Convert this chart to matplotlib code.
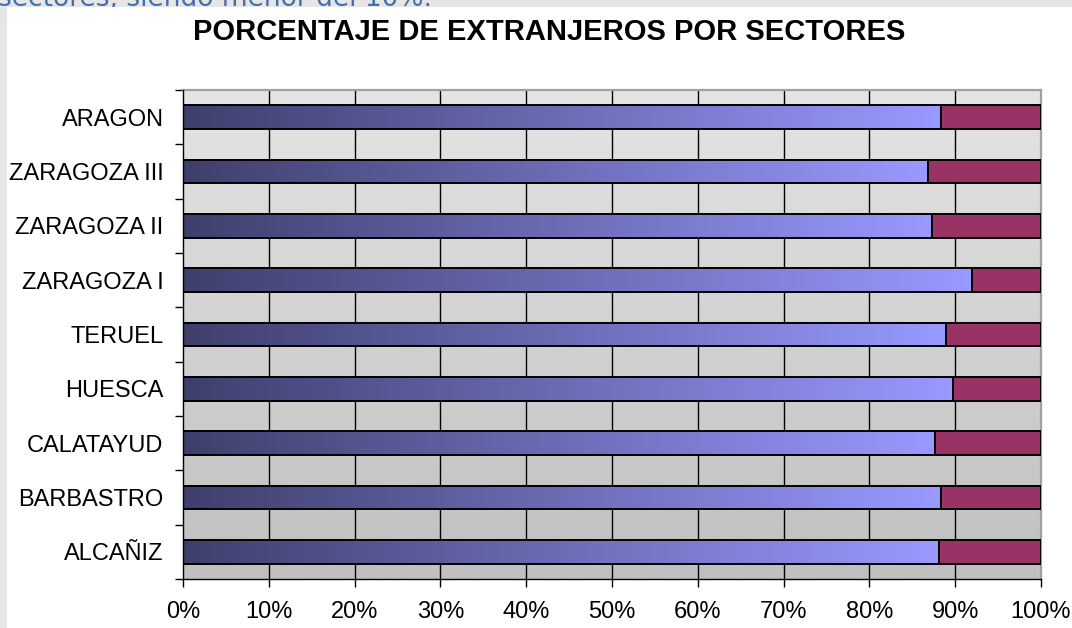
import numpy as np
import matplotlib
matplotlib.use('Agg')
import matplotlib.pyplot as plt
from matplotlib.colors import LinearSegmentedColormap
from matplotlib.patches import Rectangle

plt.rcParams['font.family'] = ['Liberation Sans', 'DejaVu Sans']

# ── data (percent) ───────────────────────────────────────────────────────────
sectores = ['ARAGON', 'ZARAGOZA III', 'ZARAGOZA II', 'ZARAGOZA I', 'TERUEL',
            'HUESCA', 'CALATAYUD', 'BARBASTRO', 'ALCAÑIZ']
espanoles    = [88.3, 86.8, 87.3, 91.9, 88.9, 89.7, 87.6, 88.3, 88.1]
extranjeros  = [11.7, 13.2, 12.7,  8.1, 11.1, 10.3, 12.4, 11.7, 11.9]
x_ticks = list(range(0, 101, 10))
x_labels = [f'{t}%' for t in x_ticks]

TITLE = 'PORCENTAJE DE EXTRANJEROS POR SECTORES'
CUT_TEXT = 'sectores, siendo menor del 10%.'

# ── figure ───────────────────────────────────────────────────────────────────
W, H = 1072, 628
fig = plt.figure(figsize=(W / 100, H / 100), dpi=100, facecolor='#e6e6e6')
fig.patches.append(Rectangle((7 / W, 0), 1 - 7 / W, 1 - 7 / H,
                             transform=fig.transFigure, facecolor='white',
                             edgecolor='none', zorder=-10))
# page text cut off by the top edge and the white chart area
fig.text(-2 / W, 1 - 6 / H, CUT_TEXT, color='#4470aa', fontsize=19,
         family='DejaVu Sans', ha='left', va='baseline', zorder=-20)
fig.text(549 / W, 1 - 32 / H, TITLE, fontsize=21, fontweight='bold',
         ha='center', va='center')

ax = fig.add_axes([183 / W, 1 - 579 / H, (1041 - 183) / W, (579 - 90) / H])

n = len(sectores)
ypos = np.arange(n)[::-1]          # ARAGON on top
bar_h = 0.43

# plot-area background: vertical gray gradient (light on top)
bg = np.linspace(0, 1, 256).reshape(-1, 1)
bg_cmap = LinearSegmentedColormap.from_list('bg', ['#e4e4e4', '#c0c0c0'])
ax.imshow(bg, cmap=bg_cmap, aspect='auto', origin='upper',
          extent=(0, 1, 0, 1), transform=ax.transAxes, zorder=0)

# vertical grid
for t in x_ticks[1:-1]:
    ax.axvline(t, color='black', lw=1.0, zorder=1)

# first series: horizontal gradient inside each bar
bar_cmap = LinearSegmentedColormap.from_list('bar', ['#3f3f6d', '#9999ff'])
grad = np.linspace(0, 1, 256).reshape(1, -1)
for y, v in zip(ypos, espanoles):
    ax.imshow(grad, cmap=bar_cmap, aspect='auto',
              extent=(0, v, y - bar_h / 2, y + bar_h / 2), zorder=2)
ax.barh(ypos, espanoles, height=bar_h, facecolor='none',
        edgecolor='black', lw=1.4, zorder=3)
ax.barh(ypos, extranjeros, left=espanoles, height=bar_h, color='#993366',
        edgecolor='black', lw=1.4, zorder=3)
ax.set_xlim(0, 100)
ax.set_ylim(-0.5, n - 0.5)

# axes frame
for s in ['top', 'right']:
    ax.spines[s].set_color('#a0a0a0')
    ax.spines[s].set_linewidth(1.6)
for s in ['left', 'bottom']:
    ax.spines[s].set_color('black')
    ax.spines[s].set_linewidth(1.0)
    ax.spines[s].set_zorder(4)

ax.set_xticks(x_ticks)
ax.set_xticklabels(x_labels, fontsize=17)
ax.tick_params(axis='x', direction='out', length=6, width=1, pad=10)

ax.set_yticks(ypos)
ax.set_yticklabels(sectores, fontsize=17)
ax.set_yticks(np.arange(-0.5, n, 1), minor=True)
ax.tick_params(axis='y', which='major', length=0, pad=14)
ax.tick_params(axis='y', which='minor', direction='out', length=5.5, width=1)

fig.savefig('out.png', dpi=100, facecolor=fig.get_facecolor())
